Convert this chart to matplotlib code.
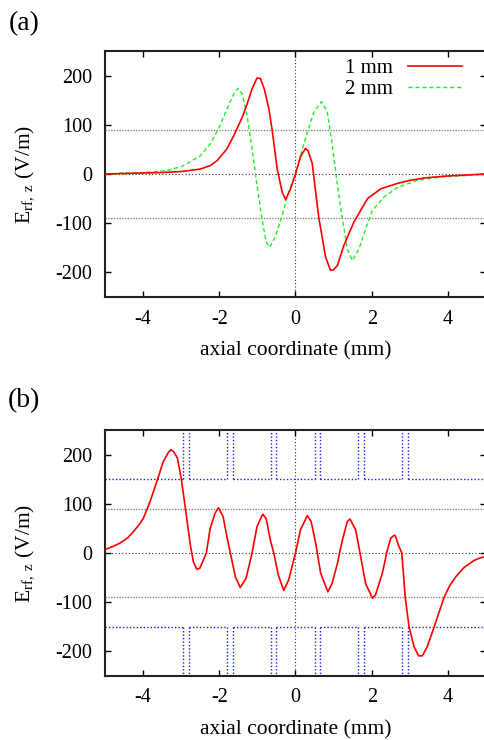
import matplotlib
matplotlib.use("Agg")
import matplotlib.pyplot as plt

plt.rcParams["font.family"] = ["Liberation Serif", "DejaVu Serif"]
plt.rcParams["mathtext.fontset"] = "custom"
plt.rcParams["mathtext.rm"] = "Liberation Serif"
plt.rcParams["mathtext.it"] = "Liberation Serif:italic"

# ---- (a) on-axis field for two electrode spacings ----
x_1mm = [-5, -4.5, -4, -3.5, -3, -2.5, -2.24, -2.06, -1.8, -1.62, -1.40, -1.27, -1.14,
         -1.01, -0.92, -0.82, -0.70, -0.61, -0.48, -0.35, -0.26, -0.13, 0, 0.13, 0.26,
         0.33, 0.44, 0.61, 0.79, 0.92, 0.99, 1.10, 1.27, 1.53, 1.89, 2.24, 2.68, 3.0,
         3.38, 4.0, 4.5, 5]
e_1mm = [0, 1, 2, 3, 5, 10, 17, 27, 51, 78, 115, 142, 173,
         195, 194, 173, 133, 88, 10, -37, -52, -30, 0, 35, 52,
         47, 21, -88, -169, -196, -195, -186, -145, -98, -50, -30, -19, -13,
         -8, -4, -2, 0]

x_2mm = [-5, -4.5, -4, -3.38, -3.0, -2.85, -2.5, -2.24, -2.02, -1.80, -1.62, -1.51,
         -1.40, -1.27, -1.14, -1.01, -0.88, -0.77, -0.68, -0.53, -0.35, -0.18, 0, 0.13,
         0.31, 0.48, 0.68, 0.83, 0.96, 1.10, 1.23, 1.36, 1.49, 1.67, 1.84, 2.02, 2.32,
         2.68, 3.2, 3.82, 4.5, 5]
e_2mm = [0, 2, 3, 7, 15, 21, 37, 61, 92, 132, 163, 174,
         163, 119, 51, -23, -91, -138, -149, -128, -84, -37, 0, 37,
         85, 125, 147, 128, 62, -23, -91, -152, -176, -152, -111, -74, -47,
         -27, -13, -6, -3, 0]

# ---- (b) on-axis field of the multi-electrode stack ----
x_b = [-5, -4.8, -4.61, -4.4, -4.26, -4.1, -3.99, -3.82, -3.64, -3.47, -3.33, -3.27,
       -3.20, -3.10, -3.0, -2.89, -2.76, -2.68, -2.59, -2.51, -2.34, -2.24, -2.11,
       -2.02, -1.90, -1.80, -1.71, -1.58, -1.45, -1.30, -1.14, -1.01, -0.86, -0.77,
       -0.66, -0.57, -0.45, -0.31, -0.18, 0, 0.13, 0.31, 0.41, 0.53, 0.66, 0.85, 0.96,
       1.10, 1.23, 1.36, 1.43, 1.58, 1.71, 1.84, 2.02, 2.10, 2.28, 2.41, 2.50, 2.59,
       2.62, 2.70, 2.79, 2.88, 2.98, 3.11, 3.23, 3.33, 3.46, 3.64, 3.90, 4.05, 4.21,
       4.43, 4.69, 4.85, 5]
e_b = [7, 13, 20, 31, 43, 58, 71, 104, 145, 186, 205, 210,
       206, 193, 152, 91, 16, -18, -33, -31, 0, 50, 81,
       92, 74, 33, 0, -48, -70, -52, 0, 54, 79, 70,
       26, 0, -45, -76, -55, 0, 47, 76, 64, 20, -41, -79, -62,
       -21, 26, 64, 69, 47, -7, -62, -92, -85, -41, 6, 30, 36,
       35, 16, 0, -90, -150, -190, -209, -209, -190, -150, -90, -66, -48,
       -29, -15, -10, -7]

# electrode gap edges (mm) and electrode inner face level
electrode_edges = [-2.95, -2.80, -1.80, -1.65, -0.65, -0.50,
                   0.50, 0.65, 1.65, 1.80, 2.80, 2.95]
electrode_level = 150
ref_levels = [-90, 90]

x_ticks = [-4, -2, 0, 2, 4]
y_ticks = [-200, -100, 0, 100, 200]
x_lim = (-5, 5)
y_lim = (-250, 250)

W, H = 485, 740
fig = plt.figure(figsize=(W / 100, H / 100), dpi=100)


def frac(x0, y0, x1, y1):
    return [x0 / W, 1 - y1 / H, (x1 - x0) / W, (y1 - y0) / H]


def style_axes(ax):
    ax.set_xlim(*x_lim)
    ax.set_ylim(*y_lim)
    ax.set_xticks(x_ticks)
    ax.set_yticks(y_ticks)
    ax.set_xticklabels([str(t) for t in x_ticks])
    ax.set_yticklabels([str(t) for t in y_ticks])
    ax.tick_params(direction="in", length=4, width=1, top=True, right=True,
                   labelsize=14.5, pad=9)
    for s in ax.spines.values():
        s.set_linewidth(1.5)
        s.set_color("#222222")
    for lv in ref_levels:
        ax.axhline(lv, color="#8a8a8a", lw=1.0, ls=(0, (1, 1)), zorder=1)
    ax.axhline(0, color="#333333", lw=0.8, ls=(0, (1, 2)), zorder=1)
    ax.axvline(0, color="#333333", lw=0.8, ls=(0, (1, 2)), zorder=1)
    ax.set_xlabel("axial coordinate (mm)", fontsize=15.5, labelpad=9)
    ax.set_ylabel(r"E$_{\rm rf,\ z}$ (V/m)", fontsize=15.5, labelpad=14)


ax1 = fig.add_axes(frac(105, 51, 486, 297))
style_axes(ax1)
ax1.plot(x_1mm, e_1mm, color="#ff0000", lw=1.2, label="1 mm", zorder=3)
ax1.plot(x_2mm, e_2mm, color="#22ee22", lw=1.0, ls=(0, (3, 2)), label="2 mm", zorder=2)
ax1.legend(loc="upper right", bbox_to_anchor=(0.937, 0.968), markerfirst=False,
           frameon=False, fontsize=15, handlelength=2.6, handletextpad=0.7,
           labelspacing=0.05, borderpad=0, borderaxespad=0)

ax2 = fig.add_axes(frac(105, 430, 486, 676))
style_axes(ax2)
ax2.plot(x_b, e_b, color="#ff0000", lw=1.2, zorder=3)

# electrode outlines: faces at +/- level, gaps drawn as vertical edges
blue = dict(color="#1a1aff", lw=1.0, ls=(0, (1, 1.5)), zorder=2)
bounds = [x_lim[0]] + electrode_edges + [x_lim[1]]
for sign in (1, -1):
    lv = sign * electrode_level
    for i in range(0, len(bounds), 2):
        ax2.plot([bounds[i], bounds[i + 1]], [lv, lv], **blue)
    for xe in electrode_edges:
        ax2.plot([xe, xe], [lv, sign * y_lim[1]], **blue)

fig.text(9 / W, 1 - 24 / H, "(a)", fontsize=20, va="center", ha="left")
fig.text(8 / W, 1 - 401 / H, "(b)", fontsize=20, va="center", ha="left")

fig.savefig("out.png", dpi=100)
